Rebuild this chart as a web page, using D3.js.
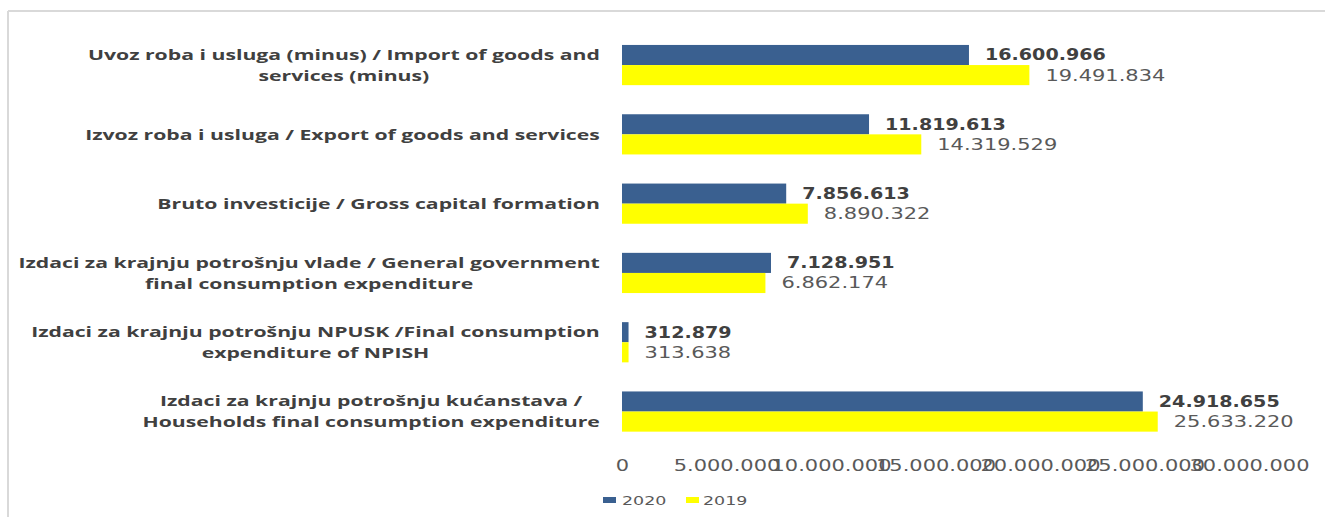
<!DOCTYPE html>
<html>
<head>
<script src="https://d3js.org/d3.v7.min.js"></script>
<style>
  body { margin: 0; background: #fff; }
  svg { display: block; }
</style>
</head>
<body>
<script>
// categories, top to bottom, already split into the lines they wrap on
const categories = [
  ["Uvoz roba i usluga (minus) / Import of goods and", "services (minus)"],
  ["Izvoz roba i usluga / Export of goods and services"],
  ["Bruto investicije / Gross capital formation"],
  ["Izdaci za krajnju potrošnju vlade / General government", "final consumption expenditure"],
  ["Izdaci za krajnju potrošnju NPUSK /Final consumption", "expenditure of NPISH"],
  ["Izdaci za krajnju potrošnju kućanstava /", "Households final consumption expenditure"]
];
const values2020 = [16600966, 11819613, 7856613, 7128951, 312879, 24918655];
const values2019 = [19491834, 14319529, 8890322, 6862174, 313638, 25633220];
const seriesNames = ["2020", "2019"];
const tickValues = [0, 5000000, 10000000, 15000000, 20000000, 25000000, 30000000];

const colors = { "2020": "#3a6090", "2019": "#ffff00" };
const W = 1325, H = 517;

const fmt = v => d3.format(",")(v).replace(/,/g, ".");

const svg = d3.select("body").append("svg")
    .attr("width", W)
    .attr("height", H);

// light frame on the top and left edges
svg.append("line").attr("x1", 8).attr("x2", W).attr("y1", 11).attr("y2", 11)
    .attr("stroke", "#d9d9d9").attr("stroke-width", 2);
svg.append("line").attr("x1", 8).attr("x2", 8).attr("y1", 11).attr("y2", H)
    .attr("stroke", "#d9d9d9").attr("stroke-width", 2);

const x = d3.scaleLinear().domain([0, 30000000]).range([622, 1249]);
const y = d3.scaleBand().domain(d3.range(categories.length))
    .range([30.4, 446.2]).paddingInner(0.42).paddingOuter(0.21);
const sub = d3.scaleBand().domain(seriesNames).range([0, y.bandwidth()]);

const rows = categories.map((c, i) => ({ i: i, lines: c, "2020": values2020[i], "2019": values2019[i] }));

// width stretch so the text matches the wide look of the original
function stretchFor(text, target, attrs) {
  const t = svg.append("text").text(text);
  Object.keys(attrs).forEach(k => t.attr(k, attrs[k]));
  const w = t.node().getComputedTextLength();
  t.remove();
  return target / w;
}

// bars
const groups = svg.selectAll("g.row").data(rows).join("g")
    .attr("class", "row")
    .attr("transform", d => `translate(0,${y(d.i)})`);

groups.selectAll("rect").data(d => seriesNames.map(s => ({ s: s, v: d[s] }))).join("rect")
    .attr("x", x(0))
    .attr("y", d => sub(d.s))
    .attr("width", d => x(d.v) - x(0))
    .attr("height", sub.bandwidth())
    .attr("fill", d => colors[d.s]);

// value labels
const valFont = "'DejaVu Sans', Verdana, sans-serif";
const valStretch = stretchFor("19.491.834", 120, { "font-family": valFont, "font-size": 15 });
const boldStretch = stretchFor("16.600.966", 121, { "font-family": valFont, "font-size": 15, "font-weight": "bold" });

groups.selectAll("text.val").data(d => seriesNames.map(s => ({ s: s, v: d[s] }))).join("text")
    .attr("class", "val")
    .attr("transform", d => `translate(${x(d.v) + 16},${sub(d.s) + sub.bandwidth() / 2}) scale(${d.s === "2020" ? boldStretch : valStretch},1)`)
    .attr("dy", "0.36em")
    .attr("font-family", valFont)
    .attr("font-size", 15)
    .attr("font-weight", d => d.s === "2020" ? "bold" : "normal")
    .attr("fill", d => d.s === "2020" ? "#404040" : "#595959")
    .text(d => fmt(d.v));

// category labels
const labFont = "'Open Sans', 'DejaVu Sans', sans-serif";
const labStretch = stretchFor(categories[1][0], 515,
    { "font-family": labFont, "font-size": 15, "font-weight": "bold" });

const lineH = 21;
rows.forEach(d => {
  const g = svg.append("g");
  const cy = y(d.i) + y.bandwidth() / 2;
  const texts = d.lines.map(t => g.append("text")
      .attr("font-family", labFont)
      .attr("font-size", 15)
      .attr("font-weight", "bold")
      .attr("fill", "#404040")
      .attr("text-anchor", "middle")
      .attr("dy", "0.36em")
      .text(t));
  const maxW = d3.max(texts, t => t.node().getComputedTextLength()) * labStretch;
  const cx = 600 - maxW / 2;
  texts.forEach((t, k) => {
    const ty = cy + (k - (d.lines.length - 1) / 2) * lineH;
    t.attr("transform", `translate(${cx},${ty}) scale(${labStretch},1)`);
  });
});

// x axis tick labels (no axis line); they crowd each other as in the original
const axis = svg.append("g")
    .attr("transform", "translate(0,466)")
    .call(d3.axisBottom(x).tickValues(tickValues).tickSize(0).tickPadding(0).tickFormat(fmt));
axis.select(".domain").remove();
axis.selectAll("text")
    .attr("y", 0)
    .attr("x", 0)
    .attr("dy", "0.36em")
    .attr("text-anchor", "middle")
    .attr("font-family", valFont)
    .attr("font-size", 15)
    .attr("fill", "#595959")
    .attr("transform", `scale(${valStretch},1)`);

// legend
const legend = svg.append("g").attr("transform", "translate(603,500)");
const legX = { "2020": 0, "2019": 83 };
seriesNames.forEach(s => {
  const lg = legend.append("g").attr("transform", `translate(${legX[s]},0)`);
  lg.append("rect").attr("x", 0).attr("y", -3).attr("width", 13).attr("height", 6)
      .attr("fill", colors[s]);
  lg.append("text")
      .attr("transform", `translate(${s === "2020" ? 19 : 17},0) scale(${valStretch},1)`)
      .attr("dy", "0.36em")
      .attr("font-family", valFont).attr("font-size", 12.5).attr("fill", "#595959")
      .text(s);
});
</script>
</body>
</html>
